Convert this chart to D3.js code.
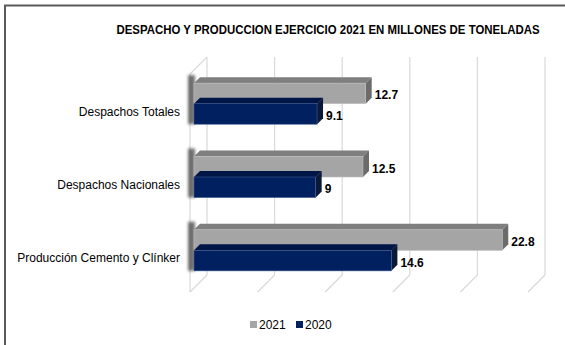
<!DOCTYPE html>
<html>
<head>
<meta charset="utf-8">
<script src="https://cdn.jsdelivr.net/npm/d3@7"></script>
<style>
  body { margin: 0; background: #fff; }
  svg { display: block; font-family: "Liberation Sans", Arial, sans-serif; }
</style>
</head>
<body>
<div id="chart"></div>
<script>
// Despacho y produccion, millones de toneladas
const categories = ['Despachos Totales', 'Despachos Nacionales', 'Producción Cemento y Clínker'];
const seriesNames = ['2021', '2020'];
const values2021 = [12.7, 12.5, 22.8];
const values2020 = [9.1, 9, 14.6];
const valueTicks = [0, 5, 10, 15, 20, 25];

const W = 565, H = 345;
const colors = {
    '2021': { front: '#a5a5a5', top: '#7f7f7f', side: '#6b6b6b' },
    '2020': { front: '#002060', top: '#001646', side: '#0b1838' }
};

const svg = d3.select('#chart').append('svg')
    .attr('width', W).attr('height', H);

// blur filter for wall shadow
svg.append('defs').append('filter').attr('id', 'blur')
    .attr('x', '-50%').attr('y', '-20%').attr('width', '200%').attr('height', '140%')
    .append('feGaussianBlur').attr('stdDeviation', 1.6);

// outer frame (runs off right and bottom)
svg.append('path')
    .attr('d', `M5,${H + 2} L5,5.5 L${W + 2},5.5`)
    .attr('fill', 'none').attr('stroke', '#5a5a5a').attr('stroke-width', 2);

svg.append('text')
    .attr('x', 328).attr('y', 34)
    .attr('text-anchor', 'middle')
    .attr('font-size', 12).attr('font-weight', 'bold')
    .attr('textLength', 423).attr('lengthAdjust', 'spacingAndGlyphs')
    .text('DESPACHO Y PRODUCCION EJERCICIO 2021 EN MILLONES DE TONELADAS');

// 3D geometry
const floorY = 292, wallTop = 57;
const depth = { dx: 17, dy: -17 };     // floor depth
const barDepth = { dx: 6, dy: -6 };    // bar thickness
const barShift = 4;                    // bars sit slightly behind front plane

const x = d3.scaleLinear().domain([0, 25]).range([190, 528]);
const y = d3.scaleBand().domain(categories).range([67, 287])
    .paddingInner(0.44).paddingOuter(0.22);
const ySub = d3.scaleBand().domain(seriesNames).range([0, y.bandwidth()]);

const grid = svg.append('g').attr('fill', 'none').attr('stroke', '#d9d9d9').attr('stroke-width', 1.2);

// back wall verticals + floor diagonals
valueTicks.forEach(t => {
    const fx = x(t);
    grid.append('line')
        .attr('x1', fx + depth.dx).attr('y1', wallTop)
        .attr('x2', fx + depth.dx).attr('y2', floorY + depth.dy);
    grid.append('line')
        .attr('x1', fx).attr('y1', floorY)
        .attr('x2', fx + depth.dx).attr('y2', floorY + depth.dy);
});
// side wall front edge
grid.append('path')
    .attr('d', `M${x(0)},${floorY} L${x(0)},${wallTop - depth.dy} L${x(0) + depth.dx},${wallTop}`);

const x0 = x(0) + barShift;
const xs = v => x(v) + barShift;

// shadow on the side wall where bars meet it
svg.append('g').selectAll('rect')
    .data(categories)
    .join('rect')
    .attr('x', x0 - 6)
    .attr('y', d => y(d) - 8)
    .attr('width', 7)
    .attr('height', y.bandwidth() + 8)
    .attr('fill', '#404040')
    .attr('opacity', 0.75)
    .attr('filter', 'url(#blur)');

const data = [];
categories.forEach((c, i) => {
    data.push({ cat: c, s: '2021', v: values2021[i] });
    data.push({ cat: c, s: '2020', v: values2020[i] });
});

const bars = svg.append('g').selectAll('g')
    .data(data)
    .join('g');

// top face
bars.append('path')
    .attr('d', d => {
        const top = y(d.cat) + ySub(d.s);
        const x1 = xs(d.v);
        return `M${x0},${top} L${x0 + barDepth.dx},${top + barDepth.dy} L${x1 + barDepth.dx},${top + barDepth.dy} L${x1},${top} Z`;
    })
    .attr('fill', d => colors[d.s].top);

// right side face
bars.append('path')
    .attr('d', d => {
        const top = y(d.cat) + ySub(d.s);
        const bot = top + ySub.bandwidth();
        const x1 = xs(d.v);
        return `M${x1},${top} L${x1 + barDepth.dx},${top + barDepth.dy} L${x1 + barDepth.dx},${bot + barDepth.dy} L${x1},${bot} Z`;
    })
    .attr('fill', d => colors[d.s].side);

// front face
bars.append('rect')
    .attr('x', x0)
    .attr('y', d => y(d.cat) + ySub(d.s))
    .attr('width', d => xs(d.v) - x0)
    .attr('height', ySub.bandwidth())
    .attr('fill', d => colors[d.s].front)
    .attr('stroke', d => d.s === '2020' ? '#3d5a8f' : '#bdbdbd')
    .attr('stroke-width', 0.6);

// value labels
bars.append('text')
    .attr('x', d => xs(d.v) + barDepth.dx + 3)
    .attr('y', d => y(d.cat) + ySub(d.s) + ySub.bandwidth() / 2 + 6)
    .attr('font-size', 12).attr('font-weight', 'bold')
    .attr('fill', '#000')
    .text(d => d.v);

// category labels
svg.append('g').selectAll('text')
    .data(categories)
    .join('text')
    .attr('x', 180)
    .attr('y', d => y(d) + y.bandwidth() / 2 + 12)
    .attr('text-anchor', 'end')
    .attr('font-size', 12)
    .attr('fill', '#000')
    .text(d => d);

// legend
const legend = svg.append('g').attr('transform', 'translate(250,321)');
const legX = d3.scaleOrdinal().domain(seriesNames).range([0, 46]);
const li = legend.selectAll('g').data(seriesNames).join('g')
    .attr('transform', d => `translate(${legX(d)},0)`);
li.append('rect').attr('width', 7).attr('height', 7).attr('fill', d => colors[d].front);
li.append('text').attr('x', 9).attr('y', 7.5)
    .attr('font-size', 12).attr('fill', '#000')
    .text(d => d);
</script>
</body>
</html>
